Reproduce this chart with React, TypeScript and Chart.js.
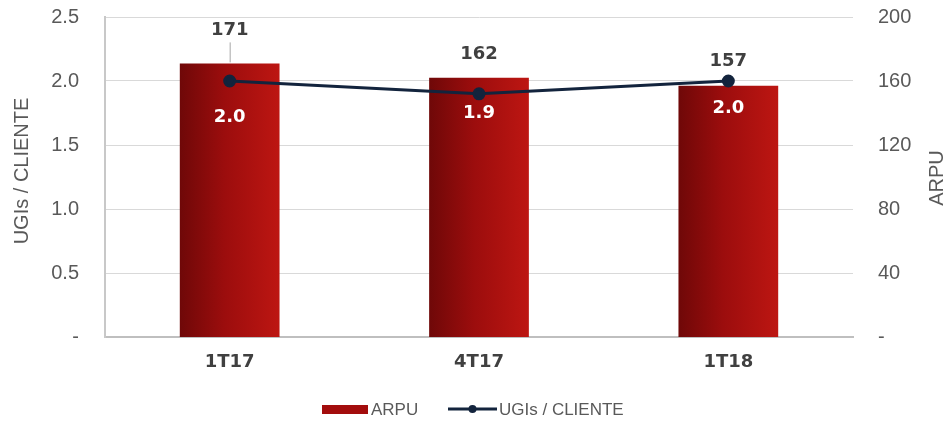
import React, { useEffect, useRef } from "react";
import { Chart, registerables } from "chart.js";

Chart.register(...registerables);

const categories = ["1T17", "4T17", "1T18"];
const arpuValues = [171, 162, 157];
const ugisValues = [2.0, 1.9, 2.0];
const ugisLabels = ["2.0", "1.9", "2.0"];
const leftAxisTitle = "UGIs / CLIENTE";
const rightAxisTitle = "ARPU";
const barSeriesName = "ARPU";
const lineSeriesName = "UGIs / CLIENTE";

const LINE_COLOR = "#13243d";
const TICK_COLOR = "#595959";
const VALUE_COLOR = "#404040";

const labelPlugin = {
  id: "customLabels",
  afterDraw(chart: any) {
    const ctx = chart.ctx;
    const area = chart.chartArea;
    const barMeta = chart.getDatasetMeta(1);
    const lineMeta = chart.getDatasetMeta(0);
    const barOffsets = [33, 23, 24];
    const lineOffsets = [36, 20, 27];
    ctx.save();
    // bar value labels
    ctx.font = "bold 18px 'DejaVu Sans'";
    ctx.fillStyle = VALUE_COLOR;
    ctx.textAlign = "center";
    ctx.textBaseline = "middle";
    barMeta.data.forEach((el: any, i: number) => {
      const y = el.y - barOffsets[i];
      ctx.fillText(String(arpuValues[i]), el.x, y);
      if (barOffsets[i] > 28) {
        ctx.strokeStyle = "#a6a6a6";
        ctx.lineWidth = 1;
        ctx.beginPath();
        ctx.moveTo(el.x + 0.5, y + 12);
        ctx.lineTo(el.x + 0.5, el.y - 1);
        ctx.stroke();
      }
    });
    // line labels
    ctx.fillStyle = "#ffffff";
    lineMeta.data.forEach((el: any, i: number) => {
      ctx.fillText(ugisLabels[i], el.x, el.y + lineOffsets[i]);
    });
    // axis titles
    ctx.font = "20px 'Liberation Sans'";
    ctx.fillStyle = TICK_COLOR;
    ctx.save();
    ctx.translate(22, (area.top + area.bottom) / 2 - 6);
    ctx.rotate(-Math.PI / 2);
    ctx.fillText(leftAxisTitle, 0, 0);
    ctx.restore();
    ctx.save();
    ctx.translate(937, (area.top + area.bottom) / 2 + 1);
    ctx.rotate(-Math.PI / 2);
    ctx.fillText(rightAxisTitle, 0, 0);
    ctx.restore();
    // legend
    const cx = (area.left + area.right) / 2;
    const ly = 410;
    ctx.font = "17px 'Liberation Sans'";
    ctx.textAlign = "left";
    ctx.fillStyle = "#a30d0d";
    const rx = cx - 157;
    ctx.fillRect(rx, ly - 5, 46, 9);
    ctx.fillStyle = TICK_COLOR;
    ctx.fillText(barSeriesName, rx + 49, ly);
    const lx = cx - 31;
    ctx.strokeStyle = LINE_COLOR;
    ctx.lineWidth = 3;
    ctx.beginPath();
    ctx.moveTo(lx, ly - 1);
    ctx.lineTo(lx + 49, ly - 1);
    ctx.stroke();
    ctx.fillStyle = LINE_COLOR;
    ctx.beginPath();
    ctx.arc(lx + 24.5, ly - 1, 4, 0, Math.PI * 2);
    ctx.fill();
    ctx.fillStyle = TICK_COLOR;
    ctx.fillText(lineSeriesName, lx + 51, ly);
    ctx.restore();
  },
};

function barGradient(context: any) {
  const chart = context.chart;
  const xs = chart.scales?.x;
  if (!xs || !chart.chartArea) return "#a30d0d";
  const center = xs.getPixelForValue(context.dataIndex);
  const half = 50;
  const g = chart.ctx.createLinearGradient(center - half, 0, center + half, 0);
  g.addColorStop(0, "#6f0808");
  g.addColorStop(0.45, "#9c0d0d");
  g.addColorStop(1, "#bd1612");
  return g;
}

function zeroPad(s: any) {
  s.paddingTop = 0;
  s.paddingBottom = 0;
  s.paddingLeft = 0;
  s.paddingRight = 0;
}

export default function App() {
  const canvasRef = useRef<HTMLCanvasElement | null>(null);

  useEffect(() => {
    if (!canvasRef.current) return;
    const chart = new Chart(canvasRef.current, {
      type: "bar",
      data: {
        labels: categories,
        datasets: [
          {
            type: "line",
            label: lineSeriesName,
            data: ugisValues,
            yAxisID: "y",
            borderColor: LINE_COLOR,
            backgroundColor: LINE_COLOR,
            borderWidth: 3,
            pointRadius: 5,
            pointBackgroundColor: LINE_COLOR,
            pointBorderColor: LINE_COLOR,
            tension: 0,
            order: 0,
          } as any,
          {
            type: "bar",
            label: barSeriesName,
            data: arpuValues,
            yAxisID: "y1",
            backgroundColor: barGradient,
            borderWidth: 0,
            categoryPercentage: 1,
            barPercentage: 0.4,
            order: 1,
          } as any,
        ],
      },
      options: {
        responsive: true,
        maintainAspectRatio: false,
        animation: false,
        layout: { padding: { top: 17, left: 0, right: 0, bottom: 0 } },
        plugins: {
          legend: { display: false },
          tooltip: { enabled: false },
        },
        scales: {
          x: {
            grid: { display: false, drawTicks: false },
            border: { display: true, color: "#bfbfbf", width: 2 },
            ticks: {
              color: VALUE_COLOR,
              font: { family: "DejaVu Sans", size: 18, weight: "bold" },
              padding: 15,
            },
            afterFit: (s: any) => {
              s.height = 86;
              zeroPad(s);
            },
          },
          y: {
            position: "left",
            min: 0,
            max: 2.5,
            ticks: {
              stepSize: 0.5,
              color: TICK_COLOR,
              font: { family: "Liberation Sans", size: 20 },
              padding: 26,
              callback: (v: any) => (Number(v) === 0 ? "-" : Number(v).toFixed(1)),
            },
            grid: { color: "#d9d9d9", lineWidth: 1, drawTicks: false },
            border: { display: true, color: "#c8c8c8", width: 2 },
            afterFit: (s: any) => {
              s.width = 105;
              zeroPad(s);
            },
          },
          y1: {
            position: "right",
            min: 0,
            max: 200,
            ticks: {
              stepSize: 40,
              color: TICK_COLOR,
              font: { family: "Liberation Sans", size: 20 },
              padding: 25,
              callback: (v: any) => (Number(v) === 0 ? "-" : String(v)),
            },
            grid: { display: false, drawTicks: false },
            border: { display: false },
            afterFit: (s: any) => {
              s.width = 96;
              zeroPad(s);
            },
          },
        },
      },
      plugins: [labelPlugin],
    });
    return () => chart.destroy();
  }, []);

  return (
    <div style={{ position: "fixed", left: 0, top: 0, width: 949, height: 423, background: "#ffffff" }}>
      <canvas ref={canvasRef} />
    </div>
  );
}
